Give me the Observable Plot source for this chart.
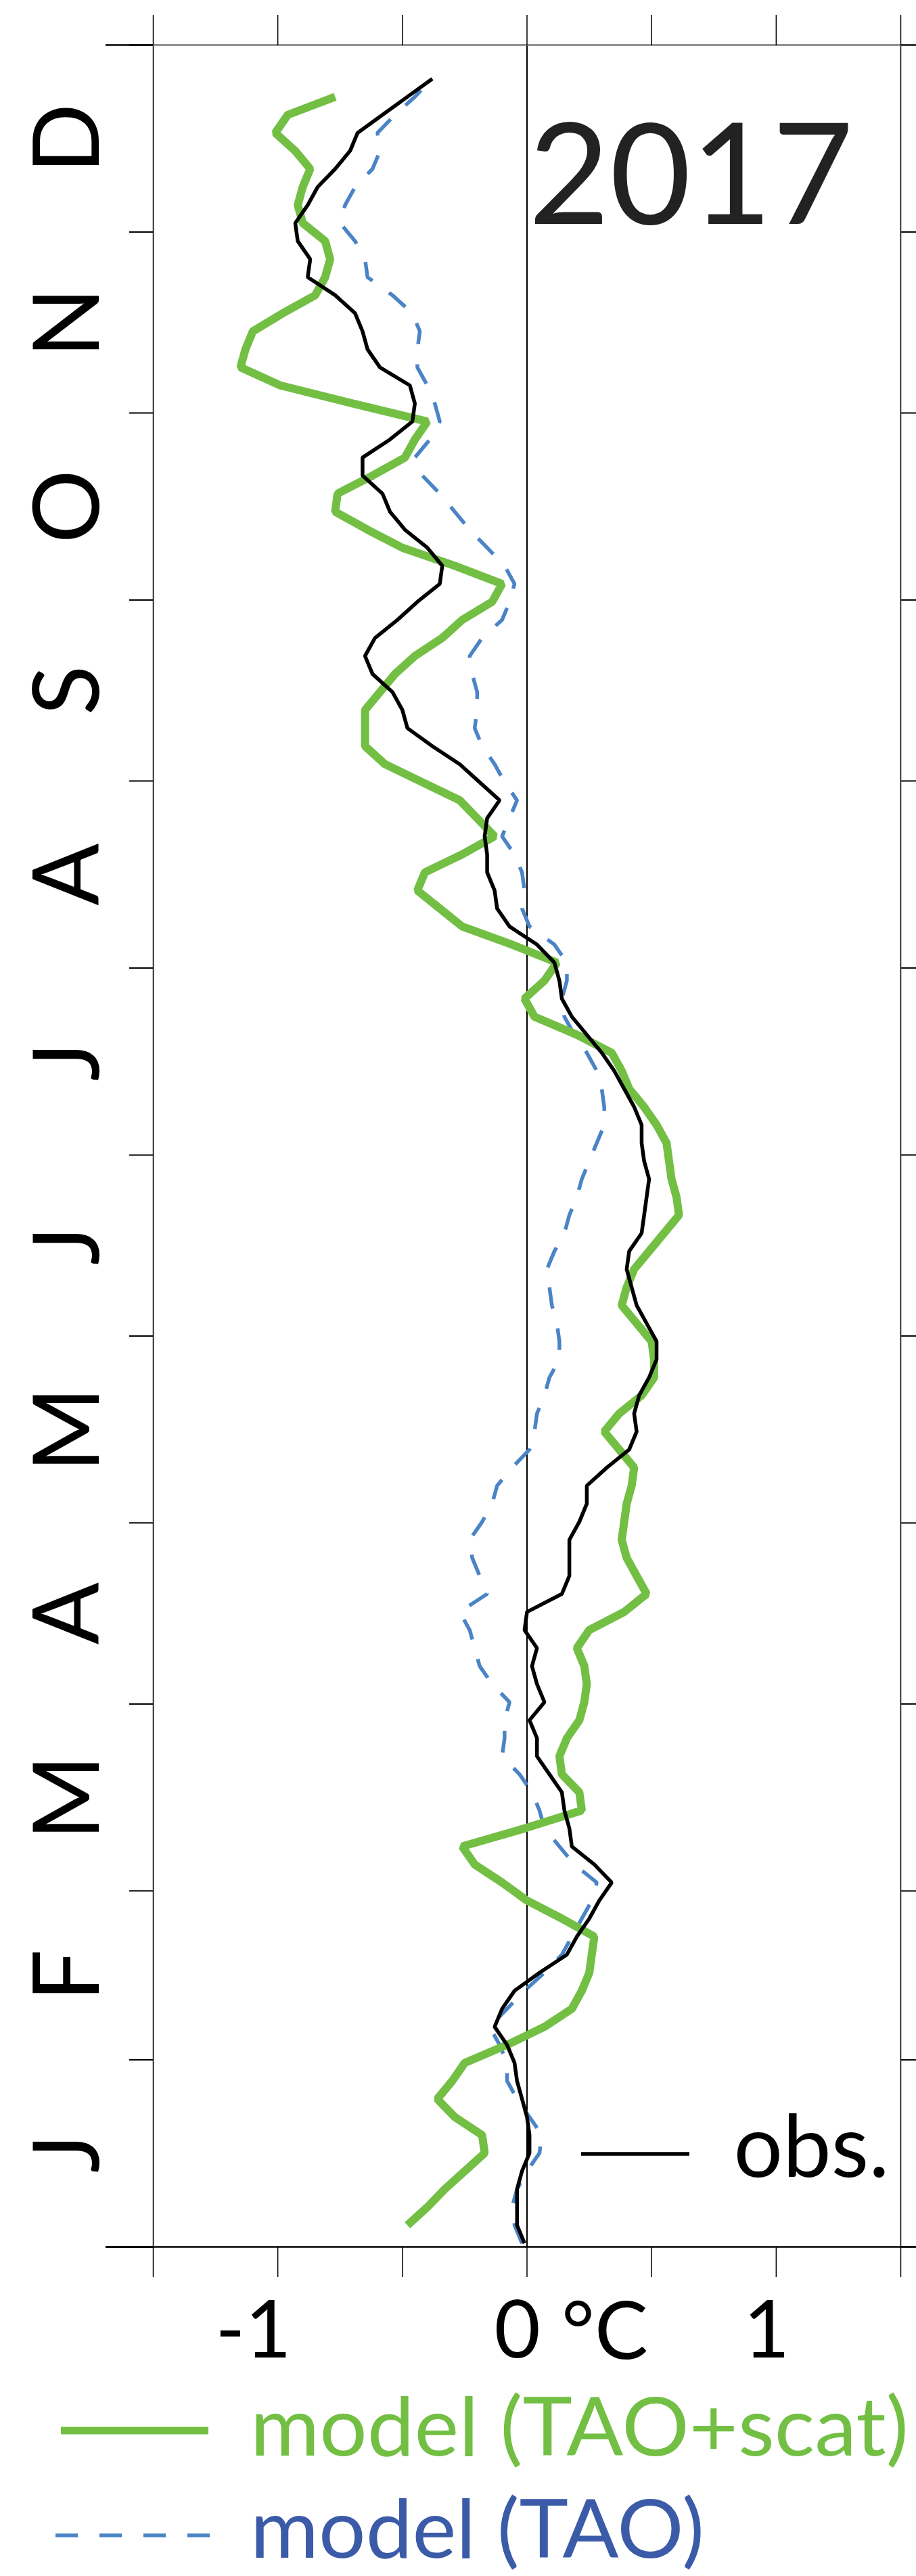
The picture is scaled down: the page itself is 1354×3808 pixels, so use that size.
<!DOCTYPE html>
<html>
<head>
<meta charset="utf-8">
<script src="https://cdn.jsdelivr.net/npm/d3@7"></script>
<script src="https://cdn.jsdelivr.net/npm/@observablehq/plot@0.6"></script>
<style>
  html, body { margin: 0; padding: 0; background: #fff; }
  #chart { width: 1354px; }
  svg { display: block; }
</style>
</head>
<body>
<div id="chart"></div>
<script>
// ---- data ----
// 3-day samples through 2017, day-of-year of first sample and step
const firstDay = 0.6;
const stepDays = 2.99;

const obs = [
  -0.01,-0.04,-0.04,-0.04,-0.02,0.01,0.01,0.00,-0.02,-0.04,
  -0.05,-0.08,-0.13,-0.10,-0.05,0.05,0.16,0.20,0.25,0.29,
  0.34,0.27,0.18,0.17,0.15,0.14,0.09,0.04,0.04,0.01,
  0.07,0.04,0.02,0.04,-0.01,0.00,0.14,0.17,0.17,0.17,
  0.21,0.24,0.24,0.32,0.41,0.44,0.43,0.45,0.49,0.52,
  0.52,0.48,0.44,0.42,0.40,0.41,0.46,0.47,0.48,0.49,
  0.47,0.46,0.46,0.43,0.39,0.35,0.30,0.24,0.18,0.14,
  0.13,0.11,0.04,-0.07,-0.12,-0.13,-0.16,-0.16,-0.17,-0.16,
  -0.11,-0.19,-0.27,-0.38,-0.48,-0.50,-0.54,-0.62,-0.65,-0.61,
  -0.52,-0.44,-0.35,-0.34,-0.40,-0.49,-0.55,-0.58,-0.66,-0.66,
  -0.55,-0.46,-0.45,-0.47,-0.59,-0.64,-0.66,-0.69,-0.77,-0.88,
  -0.87,-0.92,-0.93,-0.88,-0.84,-0.77,-0.71,-0.68,-0.58,-0.48,
  -0.38
];

const modelTaoScat = [
  null,-0.48,-0.40,-0.33,-0.25,-0.17,-0.18,-0.29,-0.36,-0.30,
  -0.25,-0.08,0.07,0.18,0.22,0.25,0.26,0.27,0.14,0.00,
  -0.10,-0.21,-0.26,-0.01,0.22,0.21,0.14,0.13,0.16,0.21,
  0.23,0.24,0.23,0.20,0.25,0.39,0.48,0.44,0.40,0.38,
  0.39,0.40,0.42,0.43,0.37,0.31,0.37,0.46,0.51,0.51,
  0.50,0.44,0.38,0.40,0.43,0.49,0.55,0.61,0.60,0.58,
  0.57,0.56,0.52,0.47,0.41,0.38,0.34,0.20,0.03,-0.01,
  0.07,0.12,-0.06,-0.26,-0.35,-0.44,-0.41,-0.26,-0.13,-0.20,
  -0.27,-0.42,-0.57,-0.65,-0.65,-0.65,-0.59,-0.53,-0.45,-0.34,
  -0.26,-0.14,-0.10,-0.29,-0.50,-0.64,-0.77,-0.76,-0.62,-0.49,
  -0.45,-0.40,-0.70,-0.99,-1.15,-1.13,-1.10,-0.98,-0.85,-0.81,
  -0.79,-0.81,-0.90,-0.92,-0.90,-0.87,-0.93,-1.01,-0.96,-0.77,
  null
];

const modelTao = [
  -0.02,-0.05,-0.06,-0.04,0.00,0.05,0.06,0.01,-0.04,-0.08,
  -0.08,-0.11,-0.15,-0.08,-0.01,0.07,0.14,0.18,0.22,0.26,
  0.28,0.19,0.13,0.07,0.05,0.02,-0.03,-0.10,-0.09,-0.09,
  -0.07,-0.14,-0.19,-0.21,-0.23,-0.27,-0.16,-0.19,-0.22,-0.23,
  -0.18,-0.14,-0.12,-0.06,0.01,0.03,0.04,0.07,0.09,0.13,
  0.13,0.12,0.10,0.09,0.08,0.11,0.15,0.17,0.20,0.22,
  0.25,0.28,0.31,0.31,0.30,0.28,0.24,0.19,0.15,0.14,
  0.16,0.16,0.11,0.01,-0.02,-0.01,-0.02,-0.05,-0.10,-0.07,
  -0.04,-0.09,-0.13,-0.18,-0.21,-0.20,-0.20,-0.22,-0.23,-0.18,
  -0.10,-0.07,-0.05,-0.09,-0.16,-0.23,-0.29,-0.35,-0.42,-0.45,
  -0.39,-0.35,-0.37,-0.40,-0.44,-0.44,-0.43,-0.46,-0.54,-0.64,
  -0.65,-0.69,-0.75,-0.73,-0.69,-0.62,-0.59,-0.60,-0.53,-0.45,
  -0.38
];

// axis ticks / labels
const xTicks = [-1.5, -1, -0.5, 0, 0.5, 1, 1.5];
const xLabels = [-1, 0, 1];
const monthStarts = [0, 31, 59, 90, 120, 151, 181, 212, 243, 273, 304, 334, 365];
const monthNames = ["J","F","M","A","M","J","J","A","S","O","N","D"];
const yearLabel = "2017";
const unitLabel = "°C";
const seriesNames = ["obs.", "model (TAO+scat)", "model (TAO)"];

// colours
const cObs = "#000000";
const cScat = "#72BF44";
const cTao = "#4A84C6";
const cTaoText = "#3B5BA9";

// ---- build table ----
const rows = obs.map((v, i) => ({
  day: firstDay + stepDays * i,
  obs: v,
  tao: modelTao[i],
  scat: modelTaoScat[i]
}));
const monthMids = monthStarts.slice(0, -1).map((d, i) => (d + monthStarts[i + 1]) / 2);

const W = 1354, H = 3808;
const mT = 66, mB = 487, mL = 226, mR = 23;

const plot = Plot.plot({
  width: W,
  height: H,
  marginTop: mT,
  marginBottom: mB,
  marginLeft: mL,
  marginRight: mR,
  style: { fontFamily: "Lato, 'Open Sans', sans-serif", background: "#fff", color: "#000", overflow: "visible" },
  x: { domain: [xTicks[0], xTicks[xTicks.length - 1]], label: null },
  y: { domain: [monthStarts[0], monthStarts[monthStarts.length - 1]], label: null },
  marks: [
    // frame sides and zero line
    Plot.ruleX([xTicks[0], xTicks[xTicks.length - 1]], { stroke: "#000", strokeWidth: 1.5 }),
    Plot.ruleX([0], { stroke: "#000", strokeWidth: 2 }),
    // top frame (grey) and bottom frame (black), extended past the frame
    Plot.ruleY([monthStarts[monthStarts.length - 1]], { stroke: "#7a7a7a", strokeWidth: 2.5, insetRight: -mR }),
    Plot.ruleY([monthStarts[0]], { stroke: "#000", strokeWidth: 2.5, insetLeft: -70, insetRight: -mR }),
    // x ticks outside, top and bottom
    Plot.axisX({ anchor: "top", ticks: xTicks, tickSize: 45, tickFormat: () => "", strokeWidth: 1.5, label: null }),
    Plot.axisX({ anchor: "bottom", ticks: xTicks, tickSize: 45, tickFormat: () => "", strokeWidth: 1.5, label: null }),
    Plot.axisX({ anchor: "bottom", ticks: xLabels, tickSize: 0, tickPadding: 80, fontSize: 118,
      textAnchor: "end", dx: 20, tickFormat: d => String(d), label: null }),
    Plot.text([unitLabel], { frameAnchor: "bottom", textAnchor: "start", lineAnchor: "bottom",
      dx: 51, dy: 165, fontSize: 118, fill: "#000", ariaLabel: "unit" }),
    // month ticks
    Plot.axisY({ anchor: "left", ticks: monthStarts, tickSize: 35, tickFormat: () => "", strokeWidth: 2, label: null }),
    Plot.axisY({ anchor: "left", ticks: [monthStarts[0], monthStarts[monthStarts.length - 1]], tickSize: 70,
      tickFormat: () => "", strokeWidth: 2.5, label: null }),
    Plot.axisY({ anchor: "right", ticks: monthStarts, tickSize: mR, tickFormat: () => "", strokeWidth: 2, label: null }),
    // month letters
    Plot.text(monthMids, { y: d => d, text: (d, i) => monthNames[i], frameAnchor: "left", dx: -124,
      textAnchor: "middle", lineAnchor: "middle",
      rotate: -90, fontSize: 136, fill: "#000", ariaLabel: "month-labels" }),
    // series
    Plot.line(rows, { x: "tao", y: "day", stroke: cTao, strokeWidth: 5.5, strokeDasharray: "32,30",
      strokeLinejoin: "miter", strokeLinecap: "butt" }),
    Plot.line(rows.filter(d => d.scat != null), { x: "scat", y: "day", stroke: cScat, strokeWidth: 12,
      strokeLinejoin: "miter", strokeLinecap: "butt" }),
    Plot.line(rows, { x: "obs", y: "day", stroke: cObs, strokeWidth: 5.5,
      strokeLinejoin: "miter", strokeLinecap: "butt" }),
    // year and obs legend text inside the frame
    Plot.text([yearLabel], { frameAnchor: "top-right", textAnchor: "end", lineAnchor: "bottom",
      dx: -70, dy: 264, fontSize: 207, fill: "#222", ariaLabel: "year" }),
    Plot.text([seriesNames[0]], { frameAnchor: "bottom-right", textAnchor: "start", lineAnchor: "bottom",
      dx: -247, dy: -104, fontSize: 128, fill: "#000", ariaLabel: "obs-label" })
  ]
});

const chart = document.getElementById("chart");
chart.append(plot);

const svg = d3.select(plot);
// drop the empty tick texts of the tick-only axes
svg.selectAll("text").filter(function () { return this.textContent.trim() === ""; }).remove();
// condensed look for the letters / labels
svg.selectAll('g[aria-label="month-labels"] text').attr("transform", function () {
  return (this.getAttribute("transform") || "") + " scale(0.8,1)";
});
svg.selectAll('g[aria-label="year"] text').attr("textLength", 444).attr("lengthAdjust", "spacingAndGlyphs");
svg.selectAll('g[aria-label="obs-label"] text').attr("textLength", 216).attr("lengthAdjust", "spacingAndGlyphs");
svg.selectAll('g[aria-label="unit"] text').attr("textLength", 91).attr("lengthAdjust", "spacingAndGlyphs");

// obs legend swatch (inside frame, lower right)
const frameRight = W - mR, frameBottom = H - mB;
svg.append("line")
  .attr("x1", frameRight - 472).attr("x2", frameRight - 312)
  .attr("y1", frameBottom - 137).attr("y2", frameBottom - 137)
  .attr("stroke", cObs).attr("stroke-width", 5.5);

// ---- legend below the frame (same svg) ----
const lg = svg.append("g").attr("aria-label", "legend")
  .attr("text-anchor", "start")
  .style("font-family", "Lato, 'Open Sans', sans-serif");
const lgTop = frameBottom + 272; // first legend row swatch position
lg.append("line").attr("x1", 90).attr("x2", 308).attr("y1", lgTop).attr("y2", lgTop)
  .attr("stroke", cScat).attr("stroke-width", 11);
lg.append("text").attr("x", 370).attr("y", lgTop + 37).attr("font-size", 120).attr("fill", cScat)
  .attr("text-anchor", "start")
  .attr("textLength", 973).attr("lengthAdjust", "spacingAndGlyphs").text(seriesNames[1]);
lg.append("line").attr("x1", 82).attr("x2", 310).attr("y1", lgTop + 155).attr("y2", lgTop + 155)
  .attr("stroke", cTao).attr("stroke-width", 5.5).attr("stroke-dasharray", "33,32");
lg.append("text").attr("x", 370).attr("y", lgTop + 188).attr("font-size", 120).attr("fill", cTaoText)
  .attr("text-anchor", "start")
  .attr("textLength", 671).attr("lengthAdjust", "spacingAndGlyphs").text(seriesNames[2]);
</script>
</body>
</html>
